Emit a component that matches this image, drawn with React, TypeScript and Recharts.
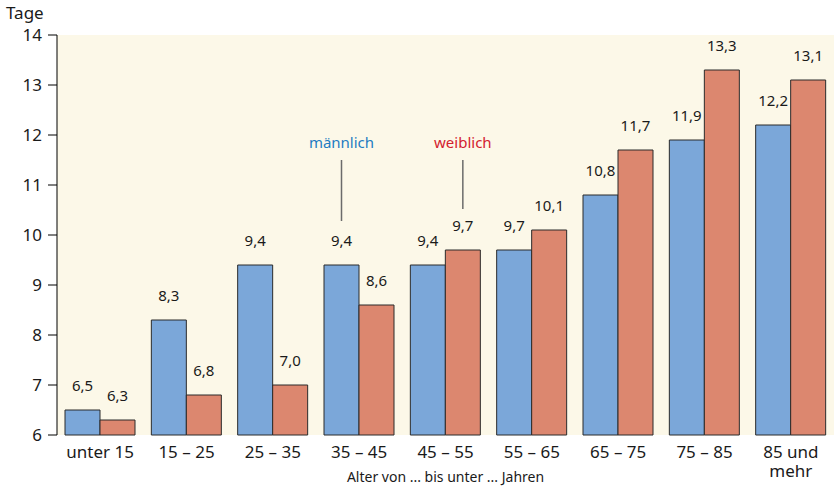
import { BarChart, Bar, XAxis, YAxis, CartesianGrid, LabelList } from "recharts";

const categories = ["unter 15", "15 – 25", "25 – 35", "35 – 45", "45 – 55", "55 – 65", "65 – 75", "75 – 85", "85 und\nmehr"];
const maleDays = [6.5, 8.3, 9.4, 9.4, 9.4, 9.7, 10.8, 11.9, 12.2];
const femaleDays = [6.3, 6.8, 7.0, 8.6, 9.7, 10.1, 11.7, 13.3, 13.1];
const yTicks = [6, 7, 8, 9, 10, 11, 12, 13, 14];

// pointer labels: which bar they hang over and from/to value of the line
const annotations = [
  { series: "male", category: "35 – 45", text: "männlich", from: 10.28, to: 11.5, color: "#1e7cc2" },
  { series: "female", category: "45 – 55", text: "weiblich", from: 10.52, to: 11.5, color: "#d3212f" },
];

const data = categories.map((c, i) => ({ name: c, male: maleDays[i], female: femaleDays[i] }));

const yMin = yTicks[0];
const fmt = (v: number) => v.toFixed(1).replace(".", ",");

const makeLabel = (series: string) => (props: any) => {
  const x = Number(props.x), y = Number(props.y), width = Number(props.width), height = Number(props.height);
  const value = Number(props.value);
  const cx = x + width / 2;
  const label = (
    <text x={cx} y={y - 19} textAnchor="middle" fontSize={15} fill="#1a1a1a">
      {fmt(value)}
    </text>
  );
  const note = annotations.find((a) => a.series === series && a.category === categories[props.index]);
  if (!note) return label;
  const unit = height / (value - yMin);
  const base = y + height;
  const y1 = base - (note.from - yMin) * unit;
  const y2 = base - (note.to - yMin) * unit;
  return (
    <g>
      {label}
      <line x1={cx} x2={cx} y1={y1} y2={y2} stroke="#6b6b6b" strokeWidth={1.5} />
      <text x={cx} y={y2 - 12} textAnchor="middle" fontSize={15} fill={note.color}>
        {note.text}
      </text>
    </g>
  );
};

const CategoryTick = (props: any) => {
  const { x, y, payload } = props;
  const lines = String(payload.value).split("\n");
  return (
    <text x={x} y={y} textAnchor="middle" fontSize={17} fill="#1a1a1a">
      {lines.map((l, i) => (
        <tspan key={i} x={x} dy={i === 0 ? 15 : 19}>
          {l}
        </tspan>
      ))}
    </text>
  );
};

export default function App() {
  return (
    <div style={{ position: "absolute", left: 0, top: 0, width: 834, height: 488, background: "#fff", fontFamily: "'Noto Sans', sans-serif" }}>
      <div style={{ position: "absolute", left: 6, top: 1, fontSize: 17, color: "#1a1a1a" }}>Tage</div>
      <BarChart width={834} height={488} data={data} margin={{ top: 35, right: 0, bottom: 0, left: 0 }} barGap={0} barSize={35}>
        <CartesianGrid horizontal={false} vertical={false} fill="#fcf8e8" stroke="none" />
        <XAxis
          dataKey="name"
          height={53}
          axisLine={false}
          tickLine={false}
          interval={0}
          tick={<CategoryTick />}
          label={{ value: "Alter von ... bis unter ... Jahren", position: "insideBottom", offset: 6, fontSize: 14, fill: "#1a1a1a" }}
        />
        <YAxis
          width={57}
          domain={[6, 14]}
          ticks={yTicks}
          interval={0}
          axisLine={{ stroke: "#000" }}
          tickLine={{ stroke: "#000" }}
          tickSize={9}
          tickMargin={6}
          tick={{ fontSize: 17, fill: "#1a1a1a" }}
        />
        <Bar dataKey="male" fill="#7ba7d9" stroke="#2b2b2b" strokeWidth={1} isAnimationActive={false}>
          <LabelList dataKey="male" content={makeLabel("male")} />
        </Bar>
        <Bar dataKey="female" fill="#dc876f" stroke="#2b2b2b" strokeWidth={1} isAnimationActive={false}>
          <LabelList dataKey="female" content={makeLabel("female")} />
        </Bar>
      </BarChart>
    </div>
  );
}
